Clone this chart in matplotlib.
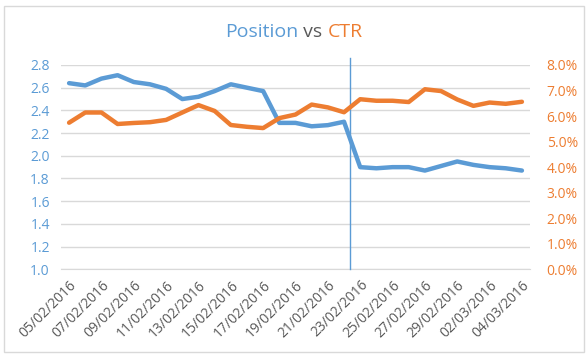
import matplotlib
matplotlib.use("Agg")
import matplotlib.pyplot as plt
from matplotlib.ticker import FuncFormatter, MultipleLocator
from matplotlib.patches import Rectangle
import datetime as dt

plt.rcParams['font.family'] = ['Open Sans', 'DejaVu Sans']

dates = [dt.date(2016, 2, 5) + dt.timedelta(days=i) for i in range(29)]
labels = [d.strftime("%d/%m/%Y") for d in dates]
position = [2.64, 2.62, 2.68, 2.71, 2.65, 2.63, 2.59, 2.50, 2.52, 2.57, 2.63, 2.60, 2.57,
            2.29, 2.29, 2.26, 2.27, 2.30, 1.90, 1.89, 1.90, 1.90, 1.87, 1.91, 1.95, 1.92,
            1.90, 1.89, 1.87]
ctr = [5.74, 6.14, 6.14, 5.69, 5.73, 5.76, 5.85, 6.14, 6.43, 6.20, 5.65, 5.58, 5.53,
       5.92, 6.06, 6.45, 6.34, 6.15, 6.66, 6.60, 6.60, 6.55, 7.05, 6.98, 6.65, 6.40,
       6.53, 6.48, 6.56]
marker_x = 17.35

BLUE = '#5B9BD5'
ORANGE = '#ED7D31'
GRAY = '#595959'
GRID = '#D9D9D9'

fig = plt.figure(figsize=(5.88, 3.58), dpi=100)
ax = fig.add_axes([61/588, 1-269.3/358, (530-61)/588, (269.3-65)/358])
ax2 = ax.twinx()

x = list(range(len(dates)))
ax.plot(x, position, color=BLUE, lw=3.2, solid_joinstyle='round', solid_capstyle='round', zorder=3)
ax2.plot(x, ctr, color=ORANGE, lw=3.2, solid_joinstyle='round', solid_capstyle='round', zorder=3)

ax.set_xlim(-0.5, len(dates) - 0.5)
ax.set_ylim(1.0, 2.8)
ax.yaxis.set_major_locator(MultipleLocator(0.2))
ax.yaxis.set_major_formatter(FuncFormatter(lambda v, p: f"{v:.1f}"))
ax2.set_ylim(0, 8)
ax2.yaxis.set_major_locator(MultipleLocator(1))
ax2.yaxis.set_major_formatter(FuncFormatter(lambda v, p: f"{v:.1f}%"))

ax.grid(axis='y', color=GRID, lw=1)
ax.set_axisbelow(True)
for a in (ax, ax2):
    for s in a.spines.values():
        s.set_visible(False)
ax.spines['bottom'].set_visible(True)
ax.spines['bottom'].set_color(GRID)

ax.set_xticks(x[::2])
ax.set_xticklabels(labels[::2], rotation=45, ha='right', rotation_mode='anchor',
                   fontsize=10, color=GRAY)
ax.tick_params(axis='x', length=0, pad=6)
ax.tick_params(axis='y', length=0, labelsize=10, labelcolor=BLUE, pad=8)
ax2.tick_params(axis='y', length=0, labelsize=10, labelcolor=ORANGE, pad=12)

ax.axvline(marker_x, ymin=0, ymax=1.035, color=BLUE, lw=1, clip_on=False, zorder=4)

# border
fig.patches.append(Rectangle((4/588, 6/358), 580/588, 346/358, transform=fig.transFigure,
                             fill=False, edgecolor=GRID, lw=1))

# title with coloured words
parts = [("Position", BLUE), (" vs ", GRAY), ("CTR", ORANGE)]
fig.canvas.draw()
r = fig.canvas.get_renderer()
texts = []
for s, c in parts:
    t = fig.text(0, 0.91, s, color=c, fontsize=14, va='center', ha='left')
    texts.append(t)
widths = [t.get_window_extent(r).width for t in texts]
total = sum(widths)
start = 294 - total / 2
for t, w in zip(texts, widths):
    t.set_x(start / 588)
    start += w

fig.savefig("out.png", dpi=100)
